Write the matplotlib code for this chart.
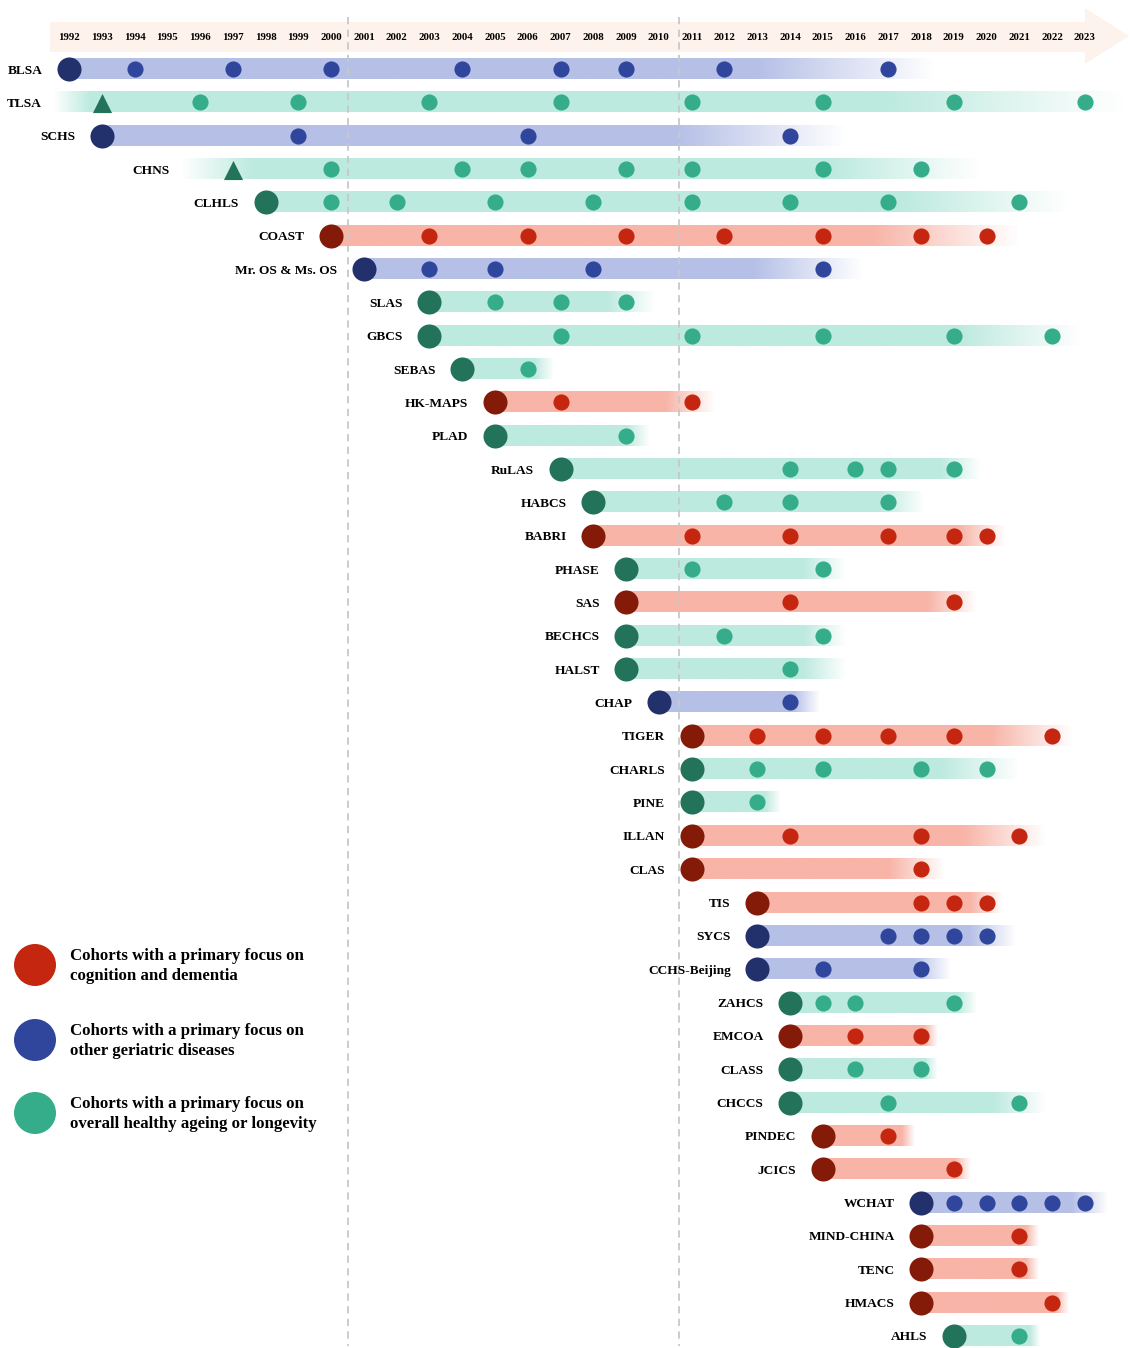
import numpy as np
import matplotlib
matplotlib.use("Agg")
import matplotlib.pyplot as plt
import matplotlib.colors as mcolors
from matplotlib.patches import Polygon, Ellipse

# ---- datos: cohortes, grupo, año de inicio, olas de seguimiento ----
nombres = ["BLSA", "TLSA", "SCHS", "CHNS", "CLHLS", "COAST", "Mr. OS & Ms. OS", "SLAS",
           "GBCS", "SEBAS", "HK-MAPS", "PLAD", "RuLAS", "HABCS", "BABRI", "PHASE", "SAS",
           "BECHCS", "HALST", "CHAP", "TIGER", "CHARLS", "PINE", "ILLAN", "CLAS", "TIS",
           "SYCS", "CCHS-Beijing", "ZAHCS", "EMCOA", "CLASS", "CHCCS", "PINDEC", "JCICS",
           "WCHAT", "MIND-CHINA", "TENC", "HMACS", "AHLS"]
# 0 = cognition/dementia, 1 = other geriatric diseases, 2 = healthy ageing/longevity
grupo = [1, 2, 1, 2, 2, 0, 1, 2, 2, 2, 0, 2, 2, 2, 0, 2, 0, 2, 2, 1, 0, 2, 2, 0, 0, 0,
         1, 1, 2, 0, 2, 2, 0, 0, 1, 0, 0, 0, 2]
inicio = [1992, 1993, 1993, 1997, 1998, 2000, 2001, 2003, 2003, 2004, 2005, 2005, 2007,
          2008, 2008, 2009, 2009, 2009, 2009, 2010, 2011, 2011, 2011, 2011, 2011, 2013,
          2013, 2013, 2014, 2014, 2014, 2014, 2015, 2015, 2018, 2018, 2018, 2018, 2019]
olas = [
    [1994, 1997, 2000, 2004, 2007, 2009, 2012, 2017],
    [1996, 1999, 2003, 2007, 2011, 2015, 2019, 2023],
    [1999, 2006, 2014],
    [2000, 2004, 2006, 2009, 2011, 2015, 2018],
    [2000, 2002, 2005, 2008, 2011, 2014, 2017, 2021],
    [2003, 2006, 2009, 2012, 2015, 2018, 2020],
    [2003, 2005, 2008, 2015],
    [2005, 2007, 2009],
    [2007, 2011, 2015, 2019, 2022],
    [2006],
    [2007, 2011],
    [2009],
    [2014, 2016, 2017, 2019],
    [2012, 2014, 2017],
    [2011, 2014, 2017, 2019, 2020],
    [2011, 2015],
    [2014, 2019],
    [2012, 2015],
    [2014],
    [2014],
    [2013, 2015, 2017, 2019, 2022],
    [2013, 2015, 2018, 2020],
    [2013],
    [2014, 2018, 2021],
    [2018],
    [2018, 2019, 2020],
    [2017, 2018, 2019, 2020],
    [2015, 2018],
    [2015, 2016, 2019],
    [2016, 2018],
    [2016, 2018],
    [2017, 2021],
    [2017],
    [2019],
    [2019, 2020, 2021, 2022, 2023],
    [2021],
    [2021],
    [2022],
    [2021],
]
# año donde la barra empieza a desvanecerse y donde termina
desvanece = [2013.0, 2017.0, 2010.6, 2015.3, 2017.4, 2016.5, 2012.9, 2008.4, 2019.2, 2006.2,
             2010.2, 2009.0, 2018.6, 2016.8, 2019.2, 2014.4, 2018.2, 2014.4, 2014.4, 2014.1,
             2020.1, 2018.6, 2013.2, 2019.3, 2017.0, 2019.5, 2019.5, 2017.8, 2019.1, 2018.1,
             2018.1, 2020.2, 2017.4, 2019.0, 2022.6, 2021.2, 2021.2, 2022.1, 2021.3]
fin = [2018.4, 2024.2, 2015.7, 2019.8, 2022.5, 2021.0, 2016.2, 2009.9, 2022.9, 2006.8,
       2011.7, 2009.7, 2019.8, 2018.1, 2020.6, 2015.7, 2019.7, 2015.7, 2015.7, 2014.9,
       2022.6, 2021.0, 2013.7, 2021.8, 2018.7, 2020.5, 2020.9, 2018.9, 2019.7, 2018.5,
       2018.5, 2021.8, 2017.8, 2019.5, 2023.7, 2021.6, 2021.6, 2022.5, 2021.6]
# cohortes con origen anterior (triángulo): la barra aparece gradualmente
entrada = {"TLSA": (1991.5, 1992.6), "CHNS": (1995.4, 1997.6)}

anios = list(range(1992, 2024))
lineas_corte = [2000.5, 2010.6]

leyenda = ["Cohorts with a primary focus on\ncognition and dementia",
           "Cohorts with a primary focus on\nother geriatric diseases",
           "Cohorts with a primary focus on\noverall healthy ageing or longevity"]

# colores por grupo: barra, punto pequeño, punto grande
col_barra = ["#f8b4a7", "#b6c0e7", "#bdeadf"]
col_punto = ["#c4260f", "#30469d", "#35ad8a"]
col_inicio = ["#841a08", "#22306b", "#23735b"]

FUENTE = "Liberation Serif"
plt.rcParams["font.family"] = [FUENTE, "DejaVu Serif"]

fig = plt.figure(figsize=(11.3, 13.48), dpi=100)
ax = fig.add_axes([0, 0, 1, 1])
ax.axis("off")

px_anio = 32.77
px_fila = 33.34
x_izq = 1992 - 69 / px_anio
x_der = x_izq + 1130 / px_anio
y_top = -69 / px_fila
y_bot = (1348 - 69) / px_fila


def fila(py):
    return (py - 69) / px_fila


def barra(y, x0, x1, fade, color, lead=None):
    xs = np.linspace(x0, x1, 500)
    alpha = np.ones_like(xs)
    m = xs > fade
    alpha[m] = 1 - (xs[m] - fade) / (x1 - fade)
    if lead is not None:
        m = xs < lead[1]
        alpha[m] = (xs[m] - lead[0]) / (lead[1] - lead[0])
    img = np.zeros((1, len(xs), 4))
    img[..., :3] = mcolors.to_rgb(color)
    img[..., 3] = np.clip(alpha, 0, 1)
    h = 0.3
    ax.imshow(img, extent=[x0, x1, y - h, y + h], aspect="auto",
              interpolation="bilinear", zorder=1)


# cabecera con flecha
band_t, band_b = fila(22), fila(52)
fl_t, fl_b = fila(8), fila(64)
base = 2023.0
punta = 2024.35
cab = Polygon([[1991.42, band_t], [base, band_t], [base, fl_t], [punta, fila(36)],
               [base, fl_b], [base, band_b], [1991.42, band_b]],
              closed=True, facecolor="#fdf3ec", edgecolor="none", zorder=0)
ax.add_patch(cab)
for a in anios:
    ax.text(a, fila(37), str(a), ha="center", va="center_baseline", fontsize=7.8,
            fontweight="bold", zorder=5)

for xl in lineas_corte:
    ax.vlines(xl, fila(17), fila(1346), colors="#c8c8c8", linewidth=1.3,
              linestyles=(0, (4, 3)), zorder=2)

for i, nom in enumerate(nombres):
    g = grupo[i]
    lead = entrada.get(nom)
    x0 = lead[0] if lead else inicio[i]
    barra(i, x0, fin[i], desvanece[i], col_barra[g], lead)

    if lead:
        ax.scatter(inicio[i], i + 0.03, marker="^", s=190, color=col_inicio[g],
                   linewidths=0, zorder=4)
        ax.annotate(nom, (lead[0], i), xytext=(-8, 0), textcoords="offset points",
                    ha="right", va="center_baseline", fontsize=9.6, fontweight="bold")
    else:
        ax.scatter(inicio[i], i, s=300, color=col_inicio[g], linewidths=0, zorder=4)
        ax.annotate(nom, (inicio[i], i), xytext=(-19, 0), textcoords="offset points",
                    ha="right", va="center_baseline", fontsize=9.6, fontweight="bold")
    ax.scatter(olas[i], [i] * len(olas[i]), s=135, color=col_punto[g],
               linewidths=0, zorder=3)

# leyenda
W, H = 1130, 1348
for k, (txt, cy) in enumerate(zip(leyenda, [965, 1040, 1113])):
    ax.add_patch(Ellipse((35 / W, 1 - cy / H), 42 / W, 42 / H, transform=fig.transFigure,
                         facecolor=col_punto[k], edgecolor="none", zorder=5))
    fig.text(70 / W, 1 - (cy + 1) / H, txt, ha="left", va="center", fontsize=12.1,
             fontweight="bold", linespacing=1.3)

ax.set_xlim(x_izq, x_der)
ax.set_ylim(y_bot, y_top)

fig.savefig("out.png", dpi=100)
